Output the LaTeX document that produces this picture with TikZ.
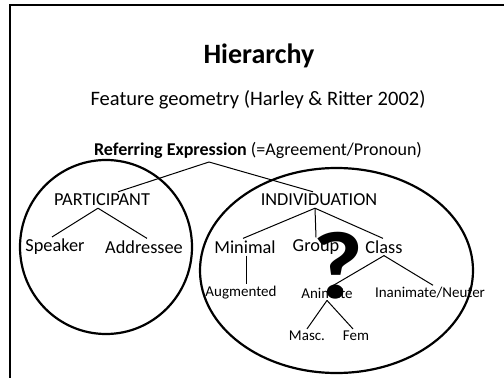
\documentclass[tikz,border=0pt]{standalone}
\usepackage{fontspec}
\setmainfont{Carlito}
\begin{document}
\begin{tikzpicture}[x=1pt,y=-1pt]

  \tikzstyle{heading}=[font=\fontsize{28}{32}\selectfont\bfseries]

  \tikzstyle{caption}=[font=\fontsize{20.5}{24}\selectfont]

  \tikzstyle{feat}=[inner sep=2pt, font=\fontsize{18.3}{21}\selectfont]

  \tikzstyle{subfeat}=[inner sep=2pt, font=\fontsize{15}{18}\selectfont]

  \tikzstyle{branch}=[draw,line width=1pt]

  \tikzstyle{ring}=[draw,line width=2.2pt]

\useasboundingbox (0,0) rectangle (504,378);

%% slide frame
\draw[line width=2pt] (504,5) -- (10,5) -- (10,378);

%% groupings
\draw[ring] (106,247) ellipse (86pt and 87pt);
\draw[ring] (336.5,270.5) ellipse (136.5pt and 102.5pt);

%% nodes or vertices

\node (T)[heading] at (259,56) {Hierarchy};

\node (S)[caption] at (258,100) {Feature geometry (Harley \& Ritter 2002)};

\node (R)[caption, font=\fontsize{18}{21}\selectfont] at (258,150) {\textbf{Referring Expression} (=Agreement/Pronoun)};
\coordinate (Rroot) at (209,162);

\node (P)[feat] at (102,200) {PARTICIPANT};
\node (I)[feat] at (319,200) {INDIVIDUATION};

\node (Sp)[feat] at (55,247) {Speaker};
\node (Ad)[feat] at (144,247) {Addressee};

\node (Mi)[feat] at (245,247) {Minimal};
\node (Gr)[feat] at (316,247) {Group};
\node (Cl)[feat] at (384,247) {Class};

\node (Au)[subfeat] at (241,293) {Augmented};
\node (An)[subfeat] at (327,293) {Animate};
\node (In)[subfeat] at (430,293) {Inanimate/Neuter};

\node (Ma)[subfeat] at (307,336) {Masc.};
\node (Fe)[subfeat] at (356,336) {Fem};

%% edges or lines

\path
	(Rroot) edge[branch] ([xshift=16pt]P.north)
	(Rroot) edge[branch] ([xshift=-6pt]I.north)

	([xshift=-4pt]P.south) edge[branch] ([xshift=-3pt]Sp.north)
	([xshift=-4pt]P.south) edge[branch] ([xshift=3pt]Ad.north)

	([xshift=-4pt]I.south) edge[branch] ([xshift=-2pt]Mi.north)
	([xshift=-4pt]I.south) edge[branch] (Gr.north)
	([xshift=-4pt]I.south) edge[branch] ([xshift=-1pt]Cl.north)

	([xshift=1pt]Mi.south) edge[branch] ([xshift=5pt]Au.north)

	(Cl.south) edge[branch] ([xshift=6pt]An.north)
	(Cl.south) edge[branch] ([xshift=3pt]In.north)

	(An.south) edge[branch] (Ma.north)
	(An.south) edge[branch] ([xshift=-3pt]Fe.north)
;

%% open question over the class branch
\node (Q)[font=\fontsize{96}{96}\selectfont\bfseries, inner sep=0pt, xscale=1.15] at (338,266) {?};

\end{tikzpicture}
\end{document}
